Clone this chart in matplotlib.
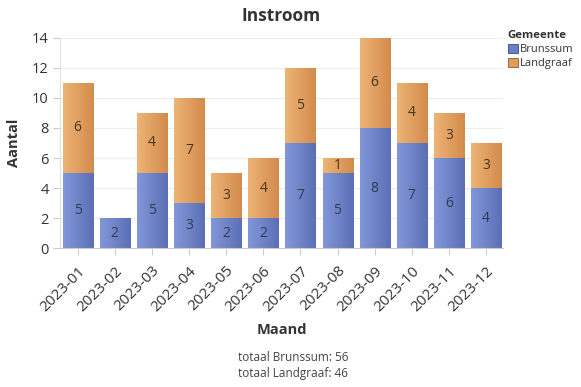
import numpy as np
import matplotlib
matplotlib.use("Agg")
import matplotlib.pyplot as plt
from matplotlib.colors import LinearSegmentedColormap

plt.rcParams['font.family'] = ['Open Sans', 'DejaVu Sans']

maanden = ['2023-01', '2023-02', '2023-03', '2023-04', '2023-05', '2023-06',
           '2023-07', '2023-08', '2023-09', '2023-10', '2023-11', '2023-12']
brunssum = [5, 2, 5, 3, 2, 2, 7, 5, 8, 7, 6, 4]
landgraaf = [6, 0, 4, 7, 3, 4, 5, 1, 6, 4, 3, 3]

blauw = ('#8297d8', '#5c6fb6')
oranje = ('#edb476', '#d38b4c')

fig = plt.figure(figsize=(5.81, 3.87), dpi=100)
ax = fig.add_axes([0.103, 0.359, 0.763, 0.543])

x = np.arange(len(maanden))
b1 = ax.bar(x, brunssum, width=0.81, color=blauw[1], edgecolor='#4a5a9a', linewidth=0.6, zorder=2)
b2 = ax.bar(x, landgraaf, width=0.81, bottom=brunssum, color=oranje[1], edgecolor='#b07040',
            linewidth=0.6, zorder=2)

# horizontal gradient fill in each bar
grad = np.linspace(0, 1, 64).reshape(1, -1)
for bars, kleuren in ((b1, blauw), (b2, oranje)):
    cmap = LinearSegmentedColormap.from_list('g', kleuren)
    for p in bars:
        if p.get_height() == 0:
            continue
        x0, y0 = p.get_x(), p.get_y()
        im = ax.imshow(grad, cmap=cmap, aspect='auto', zorder=2.5,
                       extent=(x0, x0 + p.get_width(), y0, y0 + p.get_height()))
        im.set_clip_path(p)

for i in x:
    ax.text(i, brunssum[i] / 2, str(brunssum[i]), ha='center', va='center',
            fontsize=10, color='#333a55', zorder=4)
    if landgraaf[i] > 0:
        ax.text(i, brunssum[i] + landgraaf[i] / 2, str(landgraaf[i]), ha='center', va='center',
                fontsize=10, color='#4a3520', zorder=4)

ax.set_xlim(-0.48, 11.46)
ax.set_ylim(0, 14)
ax.set_yticks(range(0, 15, 2))
ax.set_xticks(x)
ax.set_xticklabels(maanden, rotation=45, ha='right', rotation_mode='anchor', fontsize=11, color='#333333')
ax.tick_params(axis='y', labelsize=10.5, colors='#333333', length=5, color='#cccccc', pad=3)
ax.tick_params(axis='x', length=5, color='#cccccc', pad=6)
ax.grid(axis='y', color='#ececec', linewidth=0.8, zorder=0)
for s in ['top', 'right']:
    ax.spines[s].set_visible(False)
ax.spines['left'].set_color('#e0e0e0')
ax.spines['bottom'].set_color('#cccccc')

ax.set_title('Instroom', fontsize=12.5, fontweight='bold', color='#333333', pad=12)
ax.set_ylabel('Aantal', fontsize=10.5, fontweight='bold', color='#333333', labelpad=8)
ax.set_xlabel('Maand', fontsize=10.5, fontweight='bold', color='#333333', labelpad=6)

leg = ax.legend([b1, b2], ['Brunssum', 'Landgraaf'], title='Gemeente', loc='upper left',
                bbox_to_anchor=(1.0, 1.06), frameon=False, fontsize=8, title_fontsize=8.2,
                handlelength=0.9, handleheight=0.9, handletextpad=0.25, labelspacing=0.25,
                borderaxespad=0, alignment='left')
leg.get_title().set_fontweight('bold')
leg.get_title().set_color('#333333')
for t in leg.get_texts():
    t.set_color('#333333')
leg.legend_handles[0].set_facecolor('#6a7ec4')
leg.legend_handles[0].set_edgecolor('#3a4a80')
leg.legend_handles[1].set_facecolor('#e09c5c')
leg.legend_handles[1].set_edgecolor('#8a5a30')

fig.text(0.505, 0.077, 'totaal Brunssum: %d' % sum(brunssum), ha='center', va='center',
         fontsize=8.5, color='#444444')
fig.text(0.505, 0.036, 'totaal Landgraaf: %d' % sum(landgraaf), ha='center', va='center',
         fontsize=8.5, color='#444444')

fig.savefig('out.png', dpi=100)
